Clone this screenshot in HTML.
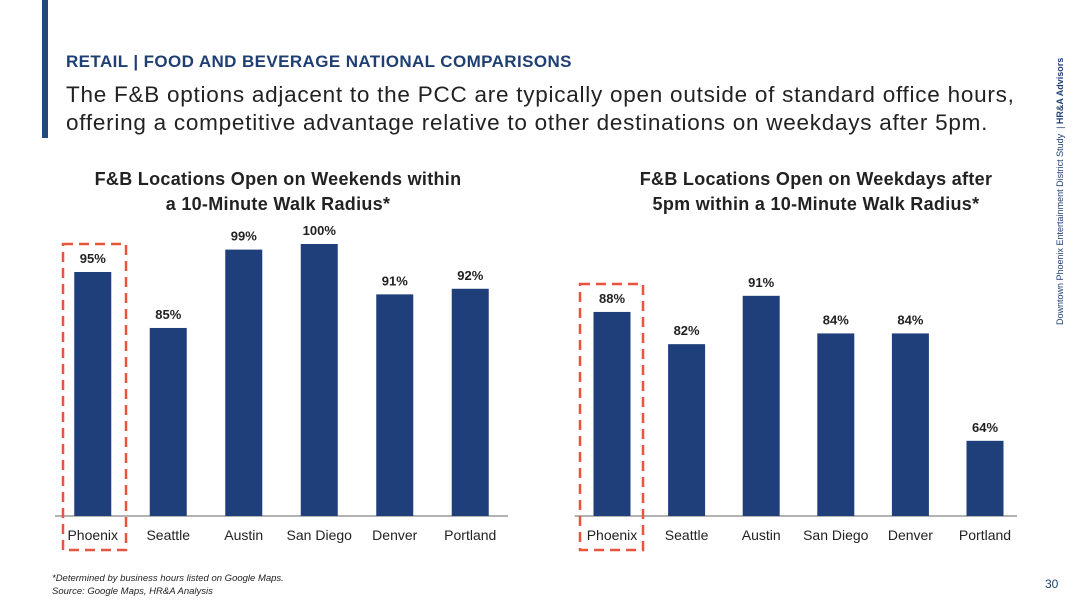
<!DOCTYPE html>
<html><head><meta charset="utf-8"><style>
body{margin:0;width:1082px;height:609px;background:#fff;font-family:"Liberation Sans",sans-serif;overflow:hidden;position:relative}
.abs{position:absolute}
</style></head><body>
<div class="abs" style="left:42px;top:0;width:6px;height:138px;background:#1f4a82"></div>
<div class="abs" style="left:66px;top:52px;font-size:17px;font-weight:bold;color:#1f3f73;letter-spacing:0.4px">RETAIL | FOOD AND BEVERAGE NATIONAL COMPARISONS</div>
<div class="abs" style="left:66px;top:81px;font-size:22.5px;line-height:28px;color:#222;letter-spacing:0.75px;white-space:nowrap">The F&amp;B options adjacent to the PCC are typically open outside of standard office hours,<br>offering a competitive advantage relative to other destinations on weekdays after 5pm.</div>
<div class="abs" style="left:1055px;top:325px;transform-origin:0 0;transform:rotate(-90deg);font-size:9px;color:#1f3f73;white-space:nowrap">Downtown Phoenix Entertainment District Study &nbsp;| <b>HR&amp;A Advisors</b></div>
<svg class="abs" style="left:0;top:0" width="1082" height="609" id="svg"></svg>
<div class="abs" style="left:52px;top:572px;font-size:9.5px;font-style:italic;line-height:13px;color:#222">*Determined by business hours listed on Google Maps.<br>Source: Google Maps, HR&amp;A Analysis</div>
<div class="abs" style="left:1045px;top:577px;font-size:12px;color:#1f3f73">30</div>
<script>
const categories=["Phoenix","Seattle","Austin","San Diego","Denver","Portland"];
const weekendValues=[95,85,99,100,91,92];
const weekdayValues=[88,82,91,84,84,64];
const NS="http://www.w3.org/2000/svg";
const svg=document.getElementById('svg');
function mk(t,a){const e=document.createElementNS(NS,t);for(const k in a)e.setAttribute(k,a[k]);svg.appendChild(e);return e;}
function chart(id,x0,x1,axEnd,vals,vmin,vmax,ytop,titleLines,cx,box){
  const base=516;
  const y=v=>base-(v-vmin)/(vmax-vmin)*(base-ytop);
  const step=(x1-x0)/categories.length;
  titleLines.forEach((t,i)=>{const e=mk('text',{x:cx,y:185+i*25,'text-anchor':'middle','font-size':18,'font-weight':'bold',fill:'#222','letter-spacing':0.3});e.textContent=t;
    
    });
  const ax=mk('line',{x1:x0,x2:axEnd,y1:base,y2:base,stroke:'#666','stroke-width':1});
  
  
  vals.forEach((v,i)=>{
    const c=x0+step*(i+0.5);
    const r=mk('rect',{x:c-18.5,y:y(v),width:37,height:base-y(v),fill:'#1f3f7a'});
    
    
    const l=mk('text',{x:c,y:y(v)-9,'text-anchor':'middle','font-size':13,'font-weight':'bold',fill:'#222'});l.textContent=v+'%';
    
    
    const t=mk('text',{x:c,y:540,'text-anchor':'middle','font-size':14,fill:'#222'});t.textContent=categories[i];
    
    
  });
  const b=mk('rect',{x:box[0],y:box[1],width:box[2],height:box[3],fill:'none',stroke:'#e8553e','stroke-width':2.5,'stroke-dasharray':'10,6'});
  
  
}
chart('weekend-chart',55,508,508,weekendValues,51.4,100,244,["F&B Locations Open on Weekends within","a 10-Minute Walk Radius*"],278,[63,244,63,306]);
chart('weekday-chart',574.7,1022.3,1017,weekdayValues,50,100,247.5,["F&B Locations Open on Weekdays after","5pm within a 10-Minute Walk Radius*"],816,[580,284,63,266]);
</script>
</body></html>
